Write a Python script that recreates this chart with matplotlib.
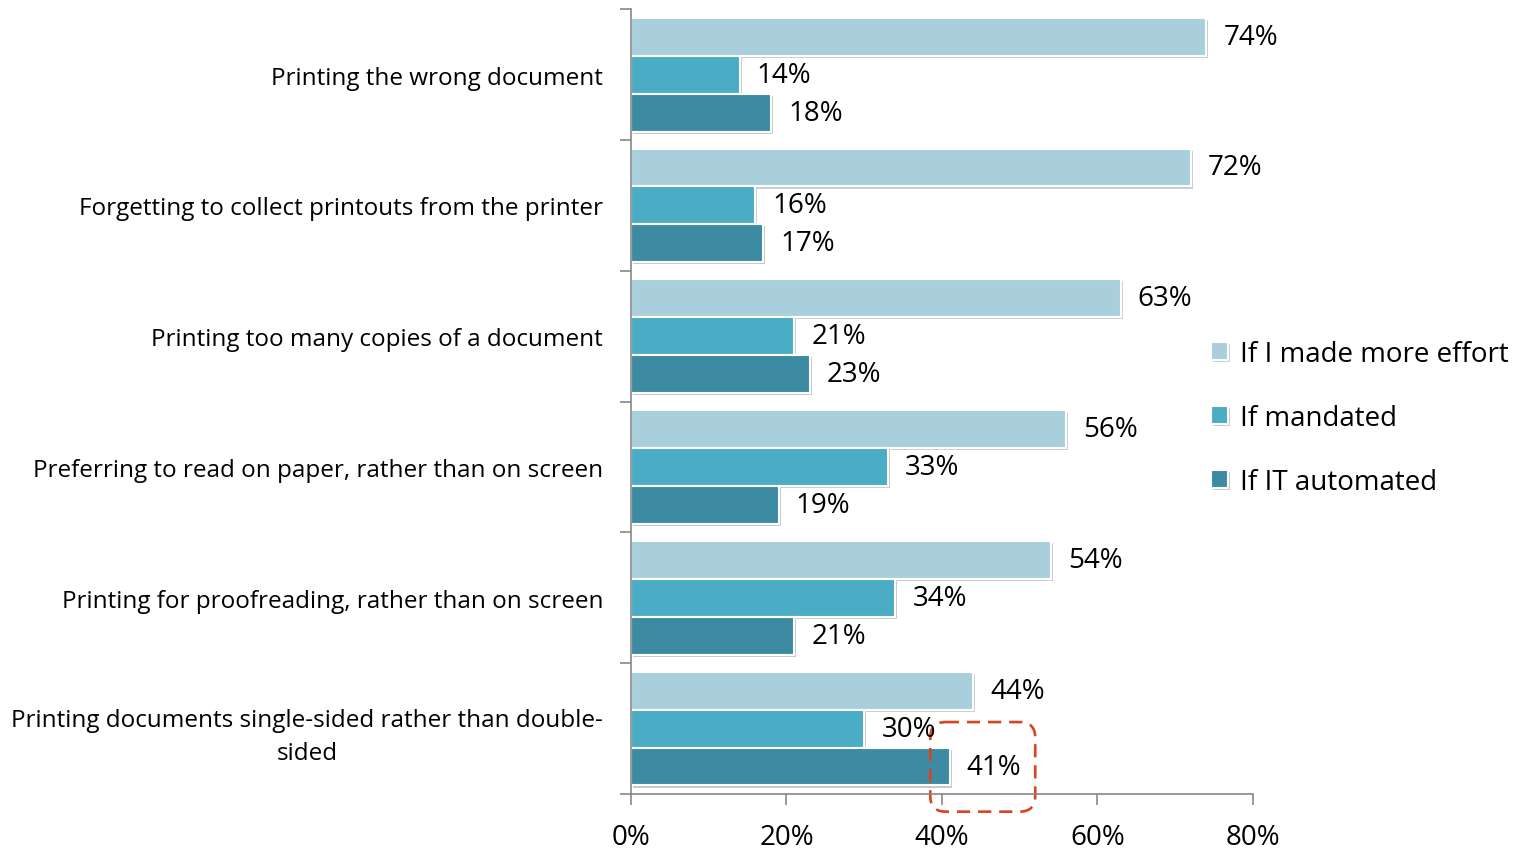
import matplotlib
matplotlib.use("Agg")
import matplotlib.pyplot as plt
import matplotlib.patheffects as pe
from matplotlib.patches import FancyBboxPatch
import numpy as np

plt.rcParams['font.family'] = ['Open Sans', 'DejaVu Sans']

categories = ["Printing the wrong document",
              "Forgetting to collect printouts from the printer",
              "Printing too many copies of a document",
              "Preferring to read on paper, rather than on screen",
              "Printing for proofreading, rather than on screen",
              "Printing documents single-sided rather than double-\nsided"]
series = ["If I made more effort", "If mandated", "If IT automated"]
effort = [74, 72, 63, 56, 54, 44]
mandated = [14, 16, 21, 33, 34, 30]
automated = [18, 17, 23, 19, 21, 41]
colors = ["#A9CFDD", "#4BACC6", "#3C8BA3"]

fig = plt.figure(figsize=(15.15, 8.53), dpi=100)
ax = fig.add_axes([0.4165, 0.068, 0.4105, 0.920])

y = np.arange(len(categories))
h = 0.29
shadow = [pe.SimplePatchShadow(offset=(1.5, -1.5), alpha=0.25), pe.Normal()]
handles = []
for i, (vals, c) in enumerate(zip([effort, mandated, automated], colors)):
    pos = y + (i - 1) * h
    bars = ax.barh(pos, vals, height=h, color=c, edgecolor="white", linewidth=1.5,
                   label=series[i])
    for b in bars:
        b.set_path_effects(shadow)
    handles.append(bars)
    for p, v in zip(pos, vals):
        ax.text(v + 2.2, p, f"{v}%", va="center", ha="left", fontsize=20)

ax.set_xlim(0, 80)
ax.set_ylim(len(categories) - 0.5, -0.5)
ax.set_xticks([0, 20, 40, 60, 80])
ax.set_xticklabels(["0%", "20%", "40%", "60%", "80%"], fontsize=20)
ax.tick_params(axis="x", direction="out", length=8, width=1.2, color="#888888", pad=13)

ax.set_yticks(y)
ax.set_yticklabels(categories, fontsize=17.5, ha="right", multialignment="center",
                   linespacing=1.55)
ax.tick_params(axis="y", which="major", length=0, pad=20)
ax.set_yticks(np.arange(len(categories) + 1) - 0.5, minor=True)
ax.tick_params(axis="y", which="minor", direction="out", length=8, width=1.2, color="#888888")

for s in ["top", "right"]:
    ax.spines[s].set_visible(False)
for s in ["left", "bottom"]:
    ax.spines[s].set_color("#888888")
    ax.spines[s].set_linewidth(1.2)

# highlight around the 41% bar
box = FancyBboxPatch((38.5, 4.95), 13.5, 0.685,
                     boxstyle="round,pad=0,rounding_size=2.0", mutation_aspect=0.06,
                     fill=False, edgecolor="#D9431E", linestyle=(0, (5, 3)),
                     linewidth=1.9, clip_on=False, transform=ax.transData)
ax.add_patch(box)

fig.legend(handles=handles, labels=series, loc="upper left",
           bbox_to_anchor=(0.783, 0.630), frameon=False, fontsize=20,
           handlelength=0.6, handleheight=0.6, handletextpad=0.45, labelspacing=1.3)

fig.savefig("out.png", dpi=100)
